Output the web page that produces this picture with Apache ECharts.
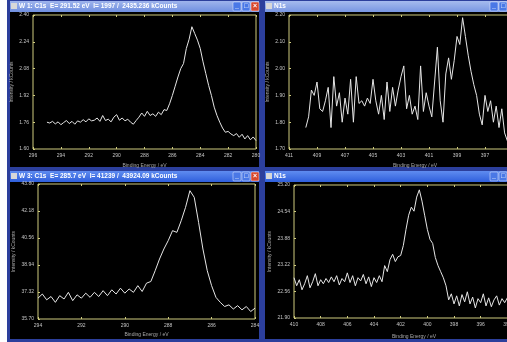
<!DOCTYPE html>
<html>
<head>
<meta charset="utf-8">
<script src="https://cdn.jsdelivr.net/npm/echarts@6/dist/echarts.min.js"></script>
<style>
  html, body { margin: 0; padding: 0; background: #fff; }
  #chart { width: 507px; height: 342px; }
</style>
</head>
<body>
<div id="chart"></div>
<script>
// window titles
const titles = [
  "W 1: C1s  E= 291.52 eV  I= 1997 /  2435.236 kCounts",
  "N1s",
  "W 3: C1s  E= 285.7 eV  I= 41239 /  43924.09 kCounts",
  "N1s"
];

// tick values per panel
const xTicks1 = [296, 294, 292, 290, 288, 286, 284, 282, 280];
const yTicks1 = [1.60, 1.76, 1.92, 2.08, 2.24, 2.40];
const xTicks2 = [411, 409, 407, 405, 403, 401, 399, 397, 395, 393];
const yTicks2 = [1.70, 1.80, 1.90, 2.00, 2.10, 2.20];
const xTicks3 = [294, 292, 290, 288, 286, 284];
const yTicks3 = [35.70, 37.32, 38.94, 40.56, 42.18, 43.80];
const xTicks4 = [410, 408, 406, 404, 402, 400, 398, 396, 394, 392];
const yTicks4 = [21.90, 22.56, 23.22, 23.88, 24.54, 25.20];

// spectra: [binding energy eV, intensity kCounts]
const c1sTop = [
  [295.0,1.760],[294.8,1.755],[294.6,1.765],[294.4,1.750],[294.2,1.762],[294.0,1.745],
  [293.8,1.758],[293.6,1.770],[293.4,1.752],[293.2,1.765],[293.0,1.748],[292.8,1.768],
  [292.6,1.760],[292.4,1.775],[292.2,1.762],[292.0,1.780],[291.8,1.768],[291.6,1.772],
  [291.4,1.785],[291.2,1.765],[291.0,1.800],[290.8,1.770],[290.6,1.778],[290.4,1.762],
  [290.2,1.790],[290.0,1.805],[289.8,1.772],[289.6,1.785],[289.4,1.768],[289.2,1.778],
  [289.0,1.760],[288.8,1.748],[288.6,1.770],[288.4,1.790],[288.2,1.815],[288.0,1.795],
  [287.8,1.825],[287.6,1.800],[287.4,1.810],[287.2,1.795],[287.0,1.820],[286.8,1.805],
  [286.6,1.835],[286.4,1.830],[286.2,1.870],[286.0,1.920],[285.8,1.975],[285.6,2.030],
  [285.4,2.080],[285.2,2.110],[285.0,2.200],[284.8,2.255],[284.6,2.330],[284.4,2.290],
  [284.2,2.250],[284.0,2.200],[283.8,2.120],[283.6,2.050],[283.4,1.980],[283.2,1.920],
  [283.0,1.850],[282.8,1.800],[282.6,1.760],[282.4,1.725],[282.2,1.700],[282.0,1.705],
  [281.8,1.690],[281.6,1.680],[281.4,1.692],[281.2,1.670],[281.0,1.688],[280.8,1.660],
  [280.6,1.680],[280.4,1.655],[280.2,1.672],[280.0,1.650]
];

const n1sTop = [
  [409.8,1.78],[409.6,1.82],[409.4,1.92],[409.2,1.90],[409.0,1.95],[408.8,1.85],
  [408.6,1.84],[408.4,1.88],[408.2,1.93],[408.0,1.78],[407.8,1.97],[407.6,1.86],
  [407.4,1.91],[407.2,1.80],[407.0,1.89],[406.8,1.83],[406.6,1.96],[406.4,1.80],
  [406.2,1.97],[406.0,1.87],[405.8,1.88],[405.6,1.86],[405.4,1.89],[405.2,1.87],
  [405.0,1.96],[404.8,1.88],[404.6,1.83],[404.4,1.90],[404.2,1.81],[404.0,1.95],
  [403.8,1.84],[403.6,1.93],[403.4,1.86],[403.2,1.92],[403.0,1.97],[402.8,2.01],
  [402.6,1.85],[402.4,1.90],[402.2,1.83],[402.0,1.86],[401.8,1.81],[401.6,2.01],
  [401.4,1.84],[401.2,1.91],[401.0,1.86],[400.8,1.82],[400.6,1.95],[400.4,2.08],
  [400.2,1.88],[400.0,1.80],[399.8,1.98],[399.6,2.04],[399.4,1.96],[399.2,2.03],
  [399.0,2.12],[398.8,2.09],[398.6,2.19],[398.4,2.12],[398.2,2.05],[398.0,1.99],
  [397.8,1.94],[397.6,1.90],[397.4,1.83],[397.2,1.79],[397.0,1.90],[396.8,1.84],
  [396.6,1.88],[396.4,1.80],[396.2,1.86],[396.0,1.78],[395.8,1.85],[395.6,1.76],
  [395.4,1.73]
];

const c1sBottom = [
  [294.0,36.95],[293.8,37.20],[293.6,36.85],[293.4,37.05],[293.2,36.70],[293.0,37.10],
  [292.8,36.90],[292.6,37.30],[292.4,36.80],[292.2,37.15],[292.0,36.95],[291.8,37.25],
  [291.6,37.00],[291.4,37.30],[291.2,37.05],[291.0,37.40],[290.8,37.10],[290.6,37.45],
  [290.4,37.20],[290.2,37.55],[290.0,37.25],[289.8,37.50],[289.6,37.30],[289.4,37.70],
  [289.2,37.35],[289.0,37.85],[288.8,37.95],[288.6,38.60],[288.4,39.30],[288.2,39.90],
  [288.0,40.40],[287.8,41.00],[287.6,40.90],[287.4,41.60],[287.2,42.40],[287.0,43.40],
  [286.8,43.00],[286.6,41.50],[286.4,39.90],[286.2,38.60],[286.0,37.70],[285.8,37.00],
  [285.6,36.70],[285.4,36.45],[285.2,36.55],[285.0,36.30],[284.8,36.50],[284.6,36.25],
  [284.4,36.45],[284.2,36.15],[284.0,36.35]
];

const n1sBottom = [
  [410.0,22.90],[409.8,22.70],[409.6,22.85],[409.4,22.60],[409.2,22.75],[409.0,22.95],
  [408.8,22.65],[408.6,22.80],[408.4,23.00],[408.2,22.70],[408.0,22.85],[407.8,22.75],
  [407.6,22.88],[407.4,22.78],[407.2,22.92],[407.0,22.80],[406.8,22.95],[406.6,22.72],
  [406.4,22.88],[406.2,22.80],[406.0,23.02],[405.8,22.78],[405.6,22.95],[405.4,22.70],
  [405.2,22.90],[405.0,22.82],[404.8,22.98],[404.6,22.75],[404.4,22.92],[404.2,22.68],
  [404.0,22.90],[403.8,22.78],[403.6,22.95],[403.4,22.80],[403.2,23.20],[403.0,23.05],
  [402.8,23.35],[402.6,23.48],[402.4,23.30],[402.2,23.42],[402.0,23.45],[401.8,23.70],
  [401.6,24.10],[401.4,24.45],[401.2,24.65],[401.0,24.55],[400.8,24.90],[400.6,25.08],
  [400.4,24.80],[400.2,24.45],[400.0,24.10],[399.8,23.85],[399.6,23.75],[399.4,23.40],
  [399.2,23.20],[399.0,23.05],[398.8,22.90],[398.6,22.70],[398.4,22.35],[398.2,22.50],
  [398.0,22.25],[397.8,22.45],[397.6,22.20],[397.4,22.48],[397.2,22.30],[397.0,22.55],
  [396.8,22.25],[396.6,22.42],[396.4,22.15],[396.2,22.38],[396.0,22.28],[395.8,22.50],
  [395.6,22.20],[395.4,22.40],[395.2,22.18],[395.0,22.35],[394.8,22.45],[394.6,22.22],
  [394.4,22.38],[394.2,22.28],[394.0,22.40],[393.8,22.25],[393.6,22.35]
];

const frameColor = "#2c3f9c";
const plotBorder = "#cfcb7e";
const labelColor = "#c4c4c4";
const font = "'Liberation Sans', Arial, sans-serif";

// one entry per window: frame box, plot grid, axis ranges
const panels = [
  { frame: [7, 0, 255, 170], bar: ["#9fb4ec", "#6f8fe0"], close: true,
    grid: { left: 33, top: 15, width: 223, height: 134 },
    x: [280, 296], xt: xTicks1, y: [1.60, 2.40], yt: yTicks1, data: c1sTop, yGap: 19, xGap: 14 },
  { frame: [262, 0, 250, 170], bar: ["#a6bbee", "#7896e2"], close: false,
    grid: { left: 289, top: 15, width: 252, height: 134 },
    x: [393, 411], xt: xTicks2, y: [1.70, 2.20], yt: yTicks2, data: n1sTop, yGap: 19, xGap: 14 },
  { frame: [7, 170, 255, 172], bar: ["#5f8cf0", "#2f5fdc"], close: true,
    grid: { left: 38, top: 184, width: 217, height: 135 },
    x: [284, 294], xt: xTicks3, y: [35.70, 43.80], yt: yTicks3, data: c1sBottom, yGap: 22, xGap: 13 },
  { frame: [262, 170, 250, 172], bar: ["#5f8cf0", "#2f5fdc"], close: false,
    grid: { left: 294, top: 185, width: 240, height: 133 },
    x: [392, 410], xt: xTicks4, y: [21.90, 25.20], yt: yTicks4, data: n1sBottom, yGap: 22, xGap: 16 }
];

const grids = [], xAxes = [], yAxes = [], series = [], graphics = [];

panels.forEach((p, i) => {
  const [fx, fy, fw, fh] = p.frame;
  graphics.push(
    { type: "rect", z: -10, shape: { x: fx, y: fy, width: fw, height: fh }, style: { fill: frameColor } },
    { type: "rect", z: -9, shape: { x: fx + 3, y: fy + 12, width: fw - 6, height: fh - 15 }, style: { fill: "#000" } },
    { type: "rect", z: -9, shape: { x: fx + 3, y: fy + 1, width: fw - 6, height: 11 },
      style: { fill: new echarts.graphic.LinearGradient(0, 0, 0, 1, [
        { offset: 0, color: p.bar[0] }, { offset: 1, color: p.bar[1] }]) } },
    { type: "rect", z: -8, shape: { x: fx + 4, y: fy + 3, width: 6, height: 6 }, style: { fill: "#d8d8d8" } },
    { type: "text", z: -8, x: fx + 12, y: fy + 3,
      style: { text: titles[i], fill: "#fff", font: "bold 6.5px " + font } }
  );
  // title bar buttons
  const bx = p.close ? fx + 226 : 490;
  const btns = p.close ? ["_", "□", "×"] : ["_", "□"];
  btns.forEach((b, k) => {
    const isClose = b === "×";
    graphics.push(
      { type: "rect", z: -8, shape: { x: bx + k * 9, y: fy + 2, width: 8, height: 9, r: 1 },
        style: { fill: isClose ? "#d9482c" : "#4a78e6", stroke: "#e8eefc", lineWidth: 0.5 } },
      { type: "text", z: -7, x: bx + k * 9 + 4, y: fy + 2.5,
        style: { text: b, fill: "#fff", font: "bold 7px " + font, align: "center" } }
    );
  });

  grids.push(Object.assign({
    show: true, borderColor: plotBorder, borderWidth: 1, backgroundColor: "transparent",
    outerBoundsMode: "none", containLabel: false
  }, p.grid));

  const tick = { show: true, inside: true, length: 2, lineStyle: { color: plotBorder, width: 1 } };
  xAxes.push({
    type: "value", gridIndex: i, min: p.x[0], max: p.x[1], inverse: true,
    name: "Binding Energy / eV", nameLocation: "middle", nameGap: p.xGap,
    nameTextStyle: { color: "#a8a8a8", fontSize: 5, fontFamily: font },
    axisLine: { show: false }, splitLine: { show: false },
    axisTick: Object.assign({ customValues: p.xt }, tick),
    axisLabel: { customValues: p.xt, color: labelColor, fontSize: 5, fontFamily: font, margin: 4,
      formatter: v => String(Math.round(v)) }
  });
  xAxes.push({
    type: "value", gridIndex: i, position: "top", min: p.x[0], max: p.x[1], inverse: true,
    axisLine: { show: false }, splitLine: { show: false }, axisLabel: { show: false },
    axisTick: Object.assign({ customValues: p.xt }, tick)
  });
  yAxes.push({
    type: "value", gridIndex: i, min: p.y[0], max: p.y[1],
    name: "Intensity / kCounts", nameLocation: "middle", nameGap: p.yGap, nameRotate: 90,
    nameTextStyle: { color: "#a8a8a8", fontSize: 5, fontFamily: font },
    axisLine: { show: false }, splitLine: { show: false },
    axisTick: Object.assign({ customValues: p.yt }, tick),
    axisLabel: { customValues: p.yt, color: labelColor, fontSize: 5, fontFamily: font, margin: 4,
      formatter: v => v.toFixed(2) }
  });
  series.push({
    type: "line", xAxisIndex: i * 2, yAxisIndex: i, data: p.data,
    showSymbol: false, symbol: "none", clip: true,
    lineStyle: { color: "#e6e6e6", width: 1 }
  });
});

const chart = echarts.init(document.getElementById("chart"), null, { renderer: "canvas" });
chart.setOption({
  backgroundColor: "#ffffff",
  animation: false,
  grid: grids,
  xAxis: xAxes,
  yAxis: yAxes,
  series: series,
  graphic: { elements: graphics }
});
</script>
</body>
</html>
